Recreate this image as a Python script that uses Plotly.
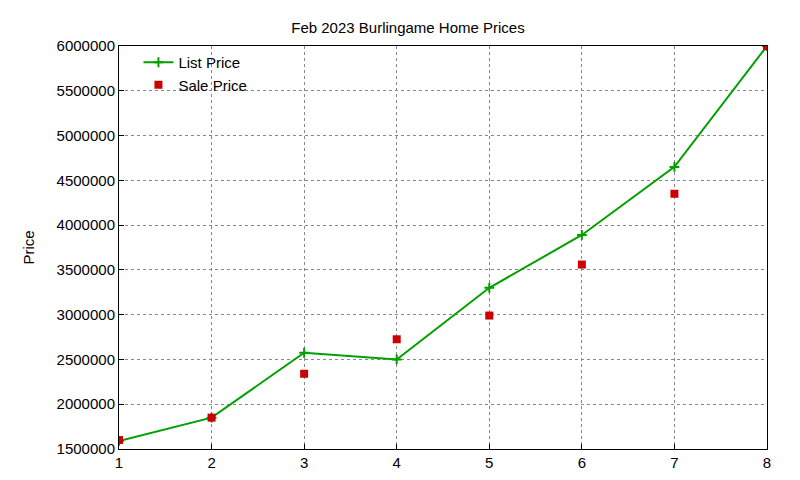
import plotly.graph_objects as go

homes = [1, 2, 3, 4, 5, 6, 7, 8]
list_price = [1590000, 1850000, 2575000, 2500000, 3300000, 3890000, 4650000, 6000000]
sale_price = [1600000, 1850000, 2340000, 2725000, 2990000, 3560000, 4350000, 6000000]

fig = go.Figure()
fig.add_scatter(x=homes, y=list_price, mode="lines+markers", name="List Price",
                line=dict(color="#00a000", width=2),
                marker=dict(symbol="cross-thin", size=7, line=dict(color="#00a000", width=2)))
fig.add_scatter(x=homes, y=sale_price, mode="markers", name="Sale Price",
                marker=dict(symbol="square", size=8, color="#cc0000"))

axis = dict(showline=True, linecolor="black", mirror=True, ticks="inside",
            tickcolor="black", showgrid=True, gridcolor="#888888", griddash="dot",
            gridwidth=1, zeroline=False, tickfont=dict(size=15))
fig.update_xaxes(range=[1, 8], dtick=1, **axis)
fig.update_yaxes(range=[1500000, 6000000], dtick=500000, tickformat="d",
                 title=dict(text="Price", standoff=18, font=dict(size=15)), **axis)
fig.update_layout(width=800, height=480, plot_bgcolor="white", paper_bgcolor="white",
                  font=dict(family="Liberation Sans, Arial", size=15, color="black"),
                  title=dict(text="Feb 2023 Burlingame Home Prices", x=0.5, y=0.97,
                             xanchor="center", font=dict(size=15)),
                  margin=dict(l=111, r=41, t=38, b=39),
                  legend=dict(x=0.03, y=1.0, xanchor="left", yanchor="top",
                              bgcolor="rgba(0,0,0,0)", tracegroupgap=0))
fig.write_html("out.html")
